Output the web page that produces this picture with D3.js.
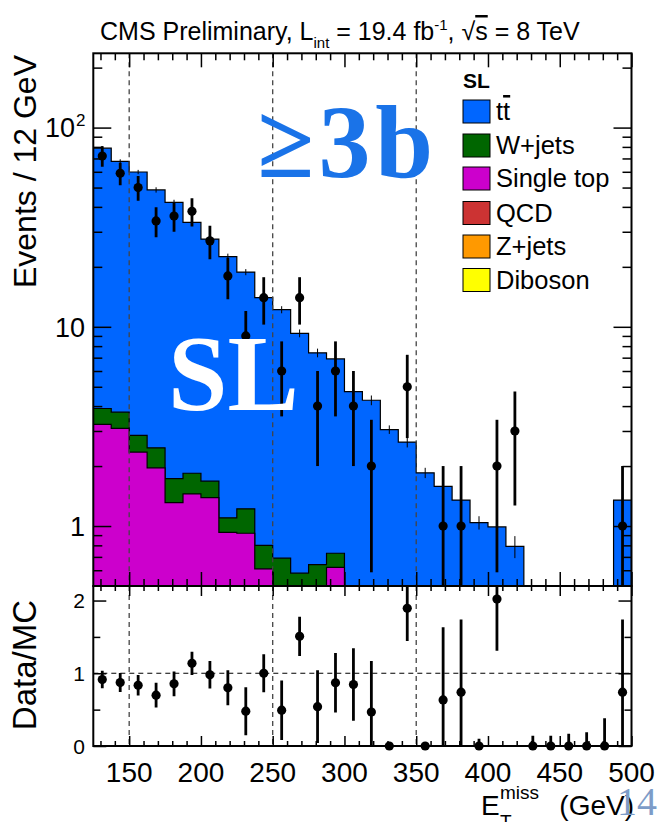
<!DOCTYPE html>
<html>
<head>
<meta charset="utf-8">
<script src="https://cdn.jsdelivr.net/npm/d3@7"></script>
<style>
body{margin:0;background:#fff;}
svg{display:block;font-family:"Liberation Sans",Arial,Helvetica,sans-serif;}
</style>
</head>
<body>
<svg id="chart" width="660" height="822"></svg>
<script>

// MET bin edges (GeV)
var binEdges = [125,137.5,150,162.5,175,187.5,200,212.5,225,237.5,250,262.5,275,287.5,300,312.5,
                325,337.5,350,362.5,375,387.5,400,412.5,425,437.5,450,462.5,475,487.5,500];

// MC components, events per bin
var ttbar     = [74.9,63.9,57.0,46.2,40.4,31.6,25.9,21.4,17.6,13.2,11.5,8.7,6.76,6.17,4.73,4.28,
                 3.05,2.64,1.85,1.58,1.35,1.04,0.99,0.79,0.3,0.25,0.2,0.2,0.25,1.35];
var wjets     = [0.65,0.64,0.50,0.51,0.42,0.39,0.29,0.17,0.30,0.19,0.29,0.23,0.24,0.11,0,0,
                 0,0,0,0,0,0,0,0,0,0,0,0,0,0];
var singleTop = [3.24,3.09,2.35,1.96,1.31,1.45,1.39,0.93,0.92,0.61,0.40,0.35,0.40,0.62,0,0,
                 0,0,0,0,0,0,0,0,0,0,0,0,0,0];
var qcd       = [0,0,0,0,0,0,0,0,0,0,0,0,0,0,0,0,0,0,0,0,0,0,0,0,0,0,0,0,0,0];
var zjets     = [0,0,0,0,0,0,0,0,0,0,0,0,0,0,0,0,0,0,0,0,0,0,0,0,0,0,0,0,0,0];
var diboson   = [0,0,0,0,0,0,0,0,0,0,0,0,0,0,0,0,0,0,0,0,0,0,0,0,0,0,0,0,0,0];

// MC stat uncertainty on the total
var mcStatErr = [2.0,1.7,1.5,1.5,1.3,1.0,1.0,0.8,0.66,0.56,0.5,0.42,0.37,0.35,0.26,0.24,
                 0.15,0.16,0.11,0.11,0.11,0.08,0.08,0.10,0,0,0,0,0,0.14];

// observed events
var dataCounts = [72,59,50,34,36,38,27,18,9,14,6,14,4,6,4,2,0,5,0,1,1,0,2,3,0,0,0,0,0,1];

// error on Data/MC as drawn in the ratio pad
var ratioErr = [0.12,0.13,0.14,0.17,0.17,0.16,0.19,0.24,0.33,0.26,0.41,0.27,0.5,0.41,0.5,0.7,
                0,0.45,0,1.0,1.0,0.1,0.71,1.2,0.14,0.14,0.17,0.19,0.38,1.0];

var xTicks = [150,200,250,300,350,400,450,500];
var cutLines = [150,250,350];
var legendNames = ["tt","W+jets","Single top","QCD","Z+jets","Diboson"];
var legendColors = ["#0066ff","#006600","#cc00cc","#cc3333","#ff9900","#ffff00"];

var svg = d3.select("#chart");

var padLeft = 93.3, padRight = 631.5, padTop = 53.3, padMid = 586, padBottom = 746;

var xScale = d3.scaleLinear().domain([125,500]).range([padLeft,padRight]);
var yScale = d3.scaleLog().domain([0.5,236]).range([padMid,padTop]).clamp(true);
var rScale = d3.scaleLinear().domain([0,2.2]).range([padBottom,padMid]);

var defs = svg.append("defs");
defs.append("clipPath").attr("id","clipMain").append("rect")
    .attr("x",padLeft).attr("y",padTop).attr("width",padRight-padLeft).attr("height",padMid-padTop);
defs.append("clipPath").attr("id","clipRatio").append("rect")
    .attr("x",padLeft).attr("y",padMid).attr("width",padRight-padLeft).attr("height",padBottom-padMid);

//stack from bottom: diboson, z+jets, qcd, single top, w+jets, ttbar
var order = [diboson,zjets,qcd,singleTop,wjets,ttbar];
var orderColors = ["#ffff00","#ff9900","#cc3333","#cc00cc","#006600","#0066ff"];
var cumulative = [];
var running = binEdges.slice(1).map(function(){return 0});
order.forEach(function(series){
    running = running.map(function(v,i){return v + series[i]});
    cumulative.push(running.slice());
});
var total = cumulative[cumulative.length-1];

var stepPoints = function(vals)
{
    var pts = [];
    vals.forEach(function(v,i){
        pts.push([binEdges[i],v]);
        pts.push([binEdges[i+1],v]);
    });
    return pts;
}

var area = d3.area()
    .x(function(d){return xScale(d[0])})
    .y0(padMid)
    .y1(function(d){return yScale(Math.max(d[1],0.01))});

var mainG = svg.append("g").attr("clip-path","url(#clipMain)");

//draw the stack, top layer first
for(var k = cumulative.length-1; k >= 0; k--)
{
    mainG.append("path")
        .attr("d",area(stepPoints(cumulative[k])))
        .attr("fill",orderColors[k])
        .attr("stroke","#000")
        .attr("stroke-width",1.2);
}

//mc stat error ticks
var centers = binEdges.slice(1).map(function(e,i){return (binEdges[i]+e)/2});
var mcErrPts = centers.map(function(c,i){return {c:c,v:total[i],e:mcStatErr[i]}})
    .filter(function(d){return d.e > 0});
mainG.selectAll("line.mcerr")
    .data(mcErrPts)
    .enter()
    .append("line")
    .attr("class","mcerr")
    .attr("x1",function(d){return xScale(d.c)})
    .attr("x2",function(d){return xScale(d.c)})
    .attr("y1",function(d){return yScale(d.v+d.e)})
    .attr("y2",function(d){return yScale(Math.max(d.v-d.e,0.01))})
    .attr("stroke","#000")
    .attr("stroke-width",1);

//dashed cut lines
var drawCuts = function(y1,y2)
{
    svg.selectAll(null)
        .data(cutLines)
        .enter()
        .append("line")
        .attr("x1",function(d){return xScale(d)})
        .attr("x2",function(d){return xScale(d)})
        .attr("y1",y1)
        .attr("y2",y2)
        .attr("stroke","#444")
        .attr("stroke-width",1.3)
        .attr("stroke-dasharray","5,4");
}
drawCuts(padTop,padMid);
drawCuts(padMid,padBottom);

//data points in main pad
var dataPts = dataCounts.map(function(n,i){return {n:n,c:centers[i]}})
    .filter(function(d){return d.n > 0});

mainG.selectAll("line.derr")
    .data(dataPts)
    .enter()
    .append("line")
    .attr("class","derr")
    .attr("x1",function(d){return xScale(d.c)})
    .attr("x2",function(d){return xScale(d.c)})
    .attr("y1",function(d){return yScale(d.n+Math.sqrt(d.n))})
    .attr("y2",function(d){return yScale(Math.max(d.n-Math.sqrt(d.n),0.01))})
    .attr("stroke","#000")
    .attr("stroke-width",2.8);

mainG.selectAll("circle.dpt")
    .data(dataPts)
    .enter()
    .append("circle")
    .attr("class","dpt")
    .attr("cx",function(d){return xScale(d.c)})
    .attr("cy",function(d){return yScale(d.n)})
    .attr("r",4.6)
    .attr("fill","#000");

//ratio pad
var ratioPts = dataCounts.map(function(n,i){
        return {r:n/total[i], e:ratioErr[i], c:centers[i], n:n};
    });

svg.append("line")
    .attr("x1",padLeft).attr("x2",padRight)
    .attr("y1",rScale(1)).attr("y2",rScale(1))
    .attr("stroke","#000")
    .attr("stroke-width",1.2)
    .attr("stroke-dasharray","5,4");

svg.append("g").attr("clip-path","url(#clipRatio)")
    .selectAll("line")
    .data(ratioPts.filter(function(d){return d.e > 0}))
    .enter()
    .append("line")
    .attr("x1",function(d){return xScale(d.c)})
    .attr("x2",function(d){return xScale(d.c)})
    .attr("y1",function(d){return rScale(d.r+d.e)})
    .attr("y2",function(d){return rScale(d.n > 0 ? Math.max(d.r-d.e,0) : 0)})
    .attr("stroke","#000")
    .attr("stroke-width",2.8);

svg.append("g")
    .selectAll("circle")
    .data(ratioPts.filter(function(d){return d.r <= 2.2}))
    .enter()
    .append("circle")
    .attr("cx",function(d){return xScale(d.c)})
    .attr("cy",function(d){return rScale(d.r)})
    .attr("r",4.6)
    .attr("fill","#000");

//axes ticks
var tickAxis = function(axis,tx,ty)
{
    svg.append("g")
        .attr("transform","translate("+tx+","+ty+")")
        .call(axis)
        .call(function(g){
            g.select(".domain").remove();
            g.selectAll("line").attr("stroke-width",1.5);
            g.selectAll("text").remove();
        });
}

var yMajor = [1,10,100];
var yMinor = [0.6,0.7,0.8,0.9,2,3,4,5,6,7,8,9,20,30,40,50,60,70,80,90,200];
var xMinor = [130,140,160,170,180,190,210,220,230,240,260,270,280,290,310,320,330,340,
              360,370,380,390,410,420,430,440,460,470,480,490];
var rMajor = [0,1,2];
var rMinor = [0.5,1.5];

tickAxis(d3.axisLeft(yScale).tickValues(yMajor).tickSize(-18),padLeft,0);
tickAxis(d3.axisLeft(yScale).tickValues(yMinor).tickSize(-9),padLeft,0);
tickAxis(d3.axisRight(yScale).tickValues(yMajor).tickSize(-18),padRight,0);
tickAxis(d3.axisRight(yScale).tickValues(yMinor).tickSize(-9),padRight,0);
tickAxis(d3.axisTop(xScale).tickValues(xTicks).tickSize(-14),0,padTop);
tickAxis(d3.axisTop(xScale).tickValues(xMinor).tickSize(-7),0,padTop);
tickAxis(d3.axisBottom(xScale).tickValues(xTicks).tickSize(-14),0,padMid);
tickAxis(d3.axisBottom(xScale).tickValues(xMinor).tickSize(-7),0,padMid);

tickAxis(d3.axisLeft(rScale).tickValues(rMajor).tickSize(-13),padLeft,0);
tickAxis(d3.axisLeft(rScale).tickValues(rMinor).tickSize(-7),padLeft,0);
tickAxis(d3.axisRight(rScale).tickValues(rMajor).tickSize(-13),padRight,0);
tickAxis(d3.axisRight(rScale).tickValues(rMinor).tickSize(-7),padRight,0);
tickAxis(d3.axisTop(xScale).tickValues(xTicks).tickSize(-10),0,padMid);
tickAxis(d3.axisTop(xScale).tickValues(xMinor).tickSize(-5),0,padMid);
tickAxis(d3.axisBottom(xScale).tickValues(xTicks).tickSize(-10),0,padBottom);
tickAxis(d3.axisBottom(xScale).tickValues(xMinor).tickSize(-5),0,padBottom);

//frames
svg.append("rect").attr("x",padLeft).attr("y",padTop).attr("width",padRight-padLeft).attr("height",padMid-padTop)
    .attr("fill","none").attr("stroke","#000").attr("stroke-width",2);
svg.append("rect").attr("x",padLeft).attr("y",padMid).attr("width",padRight-padLeft).attr("height",padBottom-padMid)
    .attr("fill","none").attr("stroke","#000").attr("stroke-width",2);

//tick labels
svg.selectAll(null)
    .data(xTicks)
    .enter()
    .append("text")
    .attr("x",function(d){return xScale(d)})
    .attr("y",782)
    .attr("text-anchor","middle")
    .attr("font-size",28)
    .text(function(d){return d});

svg.selectAll(null)
    .data(yMajor)
    .enter()
    .append("text")
    .attr("x",function(d){return d == 100 ? 75 : 85})
    .attr("y",function(d){return yScale(d)})
    .attr("dy","0.36em")
    .attr("text-anchor","end")
    .attr("font-size",27)
    .text(function(d){return d == 100 ? "10" : d});
svg.append("text").attr("x",76).attr("y",yScale(100)-2).attr("font-size",17).text("2");

svg.selectAll(null)
    .data(rMajor)
    .enter()
    .append("text")
    .attr("x",85)
    .attr("y",function(d){return rScale(d)})
    .attr("dy","0.36em")
    .attr("text-anchor","end")
    .attr("font-size",21)
    .text(function(d){return d});

//axis titles
svg.append("text")
    .attr("transform","translate(36,55) rotate(-90)")
    .attr("text-anchor","end")
    .attr("font-size",32)
    .text("Events / 12 GeV");
svg.append("text")
    .attr("transform","translate(36,600) rotate(-90)")
    .attr("text-anchor","end")
    .attr("font-size",33)
    .text("Data/MC");

svg.append("text").attr("x",481).attr("y",815).attr("font-size",28).text("E");
svg.append("text").attr("x",500).attr("y",799).attr("font-size",19).text("miss");
svg.append("text").attr("x",500).attr("y",828).attr("font-size",19).text("T");
svg.append("text").attr("x",634).attr("y",815).attr("font-size",28).attr("text-anchor","end").text("(GeV)");

//title
var title = svg.append("text").attr("x",100).attr("y",40).attr("font-size",25);
title.append("tspan").text("CMS Preliminary, L");
title.append("tspan").attr("dy",8).attr("font-size",15).text("int");
title.append("tspan").attr("dy",-8).text(" = 19.4 fb");
title.append("tspan").attr("dy",-10).attr("font-size",15).text("-1");
title.append("tspan").attr("dy",10).text(", \u221A");
title.append("tspan").style("text-decoration","overline").text("s");
title.append("tspan").text(" = 8 TeV");

//legend
var legend = svg.append("g");
legend.append("text").attr("x",463).attr("y",88).attr("font-size",21).attr("font-weight","bold").text("SL");
var legY = [100,134,167,201.5,235,268.5];
legendNames.forEach(function(name,i){
    legend.append("rect")
        .attr("x",463).attr("y",legY[i]).attr("width",27).attr("height",23)
        .attr("fill",legendColors[i]).attr("stroke","#000").attr("stroke-width",1);
    var t = legend.append("text").attr("x",496).attr("y",legY[i]+20).attr("font-size",25.5);
    if(name == "tt")
    {
        t.append("tspan").text("t");
        t.append("tspan").style("text-decoration","overline").text("t");
    }
    else
    {
        t.text(name);
    }
});

//big labels
svg.append("text")
    .attr("x",257).attr("y",177)
    .attr("font-family","'Liberation Serif','DejaVu Serif',serif")
    .attr("font-weight","bold")
    .attr("font-size",104)
    .attr("textLength",176)
    .attr("lengthAdjust","spacing")
    .attr("fill","#1a73e8")
    .text("\u22653b");
svg.append("text")
    .attr("x",168).attr("y",410)
    .attr("font-family","'Liberation Serif','DejaVu Serif',serif")
    .attr("font-weight","bold")
    .attr("font-size",107)
    .attr("fill","#fff")
    .text("SL");

//slide number
svg.append("text")
    .attr("x",617).attr("y",815)
    .attr("font-family","'Liberation Serif','DejaVu Serif',serif")
    .attr("font-size",40)
    .attr("fill","#7d9cc8")
    .text("14");

</script>
</body>
</html>
